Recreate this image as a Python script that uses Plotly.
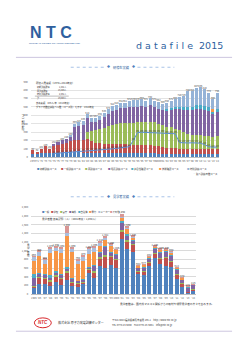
import plotly.graph_objects as go
import numpy as np

W, H = 250, 353
def px(x): return x / W
def py(y): return 1 - y / H

JP = "Noto Sans CJK JP"
BLUE_T = "#2f5f9e"

# ---------------- chart 1 data : 研修生実績 (1970-2014) ----------------
years1 = list(range(1970, 2015))
ticks1 = ["1970" if y == 1970 else "2000" if y == 2000 else "'%02d" % (y % 100) for y in years1]
names1 = ["初期訓練コース", "一般訓練コース", "再訓練コース", "班長訓練コース",
          "適合性確認コース", "技能確認コース", "特別訓練コース"]
colors1 = ["#4F81BD", "#C0504D", "#9BBB59", "#8064A2", "#4BACC6", "#F79646", "#95B3D7"]
c1_blue = [40, 35, 45, 50, 45, 55, 55, 55, 60, 60, 60, 60, 55, 55, 50, 50, 50, 50, 50, 50,
           45, 45, 45, 45, 45, 45, 45, 45, 45, 45, 40, 40, 40, 40, 40, 40, 40, 40, 40, 40,
           40, 40, 40, 40, 40]
c1_red = [42, 27, 57, 79, 57, 80, 90, 100, 110, 130, 150, 150, 150, 160, 140, 120, 120, 110, 110, 110,
          110, 110, 110, 100, 100, 100, 100, 100, 100, 90, 90, 80, 70, 70, 70, 60, 60, 60, 60, 60,
          60, 60, 60, 60, 60]
c1_green = [0, 0, 0, 0, 0, 0, 0, 0, 0, 0, 0, 0, 0, 80, 120, 150, 170, 190, 210, 230,
            240, 250, 250, 260, 260, 270, 270, 280, 270, 290, 270, 270, 250, 250, 230, 220, 200, 180, 170, 170,
            160, 150, 150, 140, 150]
c1_purple = [0, 0, 0, 0, 0, 26, 35, 45, 50, 55, 150, 165, 180, 170, 110, 100, 105, 130, 145, 160,
             165, 180, 180, 195, 200, 190, 200, 170, 205, 170, 180, 170, 200, 210, 230, 250, 260, 280, 290, 300,
             310, 310, 300, 270, 290]
c1_aqua = [0] * 32 + [10, 20, 30, 35, 40, 45, 45, 50, 50, 50, 45, 40, 40]
c1_orange = [0] * 43 + [20, 0]
c1_lblue = [0, 0, 0, 0, 0, 0, 0, 0, 0, 14, 36, 40, 50, 49, 47, 47, 49, 53, 58, 62,
            64, 66, 66, 71, 73, 73, 75, 76, 82, 76, 82, 79, 80, 81, 90, 113, 129, 183, 183, 207,
            215, 200, 175, 120, 188]
series1 = [c1_blue, c1_red, c1_green, c1_purple, c1_aqua, c1_orange, c1_lblue]
line1_name = "延べ訓練日数コース"
line1 = [None] * 5 + [45, 50, 55, 60, 62, 65, 68, 72, 75, 78, 80, 85, 90, 95, 100,
                      105, 110, 115, 125, 200, 295, 298, 296, 294, 294, 292, 290, 288, 285, 280,
                      175, 170, 170, 172, 170, 168, 150, 125, 120, 120]

# ---------------- chart 2 data : 見学者実績 (1985-2014) ----------------
years2 = list(range(1985, 2015))
ticks2 = ["1985" if y == 1985 else "2000" if y == 2000 else "'%02d" % (y % 100) for y in years2]
names2 = ["一般", "学校", "官庁", "海外", "自治体", "電力", "メーカー", "その他"]
colors2 = ["#4F81BD", "#C0504D", "#9BBB59", "#8064A2", "#4BACC6", "#F79646", "#A9BEDD", "#D99694"]
c2_ippan = [150, 230, 240, 180, 280, 200, 330, 190, 160, 220, 480, 370, 650, 600, 680, 600, 1280, 1050, 980, 460,
            440, 650, 840, 700, 650, 620, 350, 170, 20, 80]
c2_gakko = [20, 150, 100, 100, 120, 150, 150, 70, 70, 40, 80, 120, 160, 250, 170, 180, 150, 150, 150, 60,
            80, 60, 90, 100, 190, 120, 100, 60, 20, 20]
c2_kancho = [10, 20, 20, 40, 30, 30, 50, 20, 20, 20, 20, 30, 40, 40, 30, 30, 60, 50, 30, 20,
             20, 20, 20, 20, 20, 20, 20, 20, 10, 10]
c2_kaigai = [200, 60, 80, 60, 60, 60, 50, 60, 40, 40, 30, 130, 90, 200, 70, 100, 150, 100, 60, 50,
             60, 80, 90, 120, 110, 120, 80, 70, 100, 90]
c2_jichi = [80, 30, 30, 50, 40, 30, 40, 30, 20, 20, 20, 30, 20, 20, 20, 20, 40, 30, 20, 20,
            20, 20, 20, 30, 20, 30, 20, 10, 10, 6]
c2_denryoku = [300, 380, 230, 520, 460, 480, 730, 600, 380, 420, 300, 300, 150, 150, 150, 80, 80, 120, 60, 30,
               40, 20, 20, 40, 20, 40, 30, 40, 10, 6]
c2_maker = [90, 90, 80, 100, 80, 90, 60, 70, 80, 100, 100, 90, 80, 30, 10, 0, 20, 30, 20, 10,
            10, 10, 10, 10, 10, 10, 10, 5, 2, 2]
c2_sonota = [16, 25, 20, 24, 28, 24, 153, 29, 20, 19, 23, 25, 28, 31, 20, 15, 80, 30, 16, 4,
             7, 2, 10, 13, 15, 8, 2, 3, 2, 2]
series2 = [c2_ippan, c2_gakko, c2_kancho, c2_kaigai, c2_jichi, c2_denryoku, c2_maker, c2_sonota]

fig = go.Figure()

# chart 1 bars
for nm, col, vals in zip(names1, colors1, series1):
    fig.add_trace(go.Bar(x=years1, y=vals, name=nm, marker_color=col, marker_line_width=0,
                         width=0.72, xaxis="x", yaxis="y", showlegend=False))
tot1 = np.sum(np.array(series1), axis=0)
fig.add_trace(go.Scatter(x=years1, y=tot1, mode="text", text=[str(v) for v in tot1],
                         textposition="top center", textfont=dict(size=2.4, color="#404040", family=JP),
                         xaxis="x", yaxis="y", showlegend=False, cliponaxis=False))
fig.add_trace(go.Scatter(x=years1, y=line1, mode="lines+text", name=line1_name,
                         line=dict(color="#5B8FD6", width=1),
                         text=["" if v is None else str(v) for v in line1], textposition="top center",
                         textfont=dict(size=2.0, color="#404040", family=JP),
                         xaxis="x", yaxis="y", showlegend=False, connectgaps=False))

# chart 2 bars
for nm, col, vals in zip(names2, colors2, series2):
    fig.add_trace(go.Bar(x=years2, y=vals, name=nm, marker_color=col, marker_line_width=0,
                         width=0.72, xaxis="x2", yaxis="y2", showlegend=False))
tot2 = np.sum(np.array(series2), axis=0)
fig.add_trace(go.Scatter(x=years2, y=tot2, mode="text", text=["{:,}".format(int(v)) for v in tot2],
                         textposition="top center", textfont=dict(size=2.6, color="#404040", family=JP),
                         xaxis="x2", yaxis="y2", showlegend=False, cliponaxis=False))

axfont = dict(size=2.5, color="#595959", family=JP)
fig.update_layout(
    width=W, height=H, margin=dict(l=0, r=0, t=0, b=0),
    paper_bgcolor="white", plot_bgcolor="white", barmode="stack",
    font=dict(family=JP),
    xaxis=dict(domain=[29.9 / W, 219.1 / W], anchor="y", range=[1969.5, 2014.5],
               tickvals=years1, ticktext=ticks1, tickangle=0, tickfont=axfont, ticks="",
               showgrid=False, showline=True, linecolor="#bfbfbf", linewidth=0.5, zeroline=False,
               ticklabelstandoff=1),
    yaxis=dict(domain=[py(157), py(80.7)], anchor="x", range=[0, 900], dtick=100,
               tickfont=axfont, showgrid=True, gridcolor="#e3e3e3", gridwidth=0.5, zeroline=False,
               ticks="", ticklabelstandoff=2),
    xaxis2=dict(domain=[30.2 / W, 195.8 / W], anchor="y2", range=[1984.5, 2014.5],
                tickvals=years2, ticktext=ticks2, tickangle=0, tickfont=axfont, ticks="",
                showgrid=False, showline=True, linecolor="#bfbfbf", linewidth=0.5, zeroline=False,
                ticklabelstandoff=1),
    yaxis2=dict(domain=[py(295.3), py(207.8)], anchor="x2", range=[0, 2000], dtick=200,
                tickformat=",d", tickfont=axfont, showgrid=True, gridcolor="#dadada", gridwidth=0.5,
                zeroline=False, ticks="", ticklabelstandoff=2),
)

ann = []
shapes = []
def A(x, y, text, size=3, color="#333333", xanchor="center", family=JP, **kw):
    ann.append(dict(x=px(x), y=py(y), xref="paper", yref="paper", text=text, showarrow=False,
                    xanchor=xanchor, yanchor="middle", font=dict(size=size, color=color, family=family),
                    borderpad=0, **kw))

# header
A(28, 31, "<b>N T C</b>", size=16, color=BLUE_T, xanchor="left", family="Liberation Sans")
A(27, 42, "NUCLEAR POWER TRAINING CENTER LTD.", size=2.5, color=BLUE_T, xanchor="left", family="Liberation Sans")
A(135, 44.5, "d a t a f i l e  2015", size=9.5, color=BLUE_T, xanchor="left", family="DejaVu Sans")
shapes.append(dict(type="line", xref="paper", yref="paper", x0=px(15), x1=px(232), y0=py(56), y1=py(56),
                   line=dict(color="#cdc6df", width=1)))

def section(y, title):
    shapes.append(dict(type="line", xref="paper", yref="paper", x0=px(70), x1=px(104), y0=py(y), y1=py(y),
                       line=dict(color="#6f9bd6", width=0.6, dash="dot")))
    shapes.append(dict(type="line", xref="paper", yref="paper", x0=px(137), x1=px(174), y0=py(y), y1=py(y),
                       line=dict(color="#6f9bd6", width=0.6, dash="dot")))
    A(107.5, y, "◆", size=3, color="#4F81BD")
    A(133.5, y, "◆", size=3, color="#4F81BD")
    A(120.5, y, title, size=3.2, color=BLUE_T)

section(66, "研修生実績")
section(197, "見学者実績")

# chart 1 info box
A(34, 81.8, "研修人員実績（1970～2014年度）", size=2.5, xanchor="left")
rows = [("初期訓練課程", "1,331人", 86.0), ("再訓練課程", "15,346人", 89.6),
        ("特別訓練課程", "2,361人", 93.2), ("計", "19,038人", 97.2)]
for lab, val, yy in rows:
    A(35, yy, lab, size=2.1, xanchor="left")
    A(67, yy, val, size=2.1, xanchor="right")
shapes.append(dict(type="line", xref="paper", yref="paper", x0=px(34), x1=px(68), y0=py(95.2), y1=py(95.2),
                   line=dict(color="#555555", width=0.4)))
A(34, 102, "最高実績　835人/年（2010年度）", size=2.3, xanchor="left")
A(34, 106, "グラフ内数値は延べ人数（コース別）を示す　2014年度", size=2.3, xanchor="left")
A(22, 121, "研修生数（人）", size=2.6, textangle=-90)

# chart 1 legend (annotations)
leg_x = [35, 59, 83, 106, 130, 158, 186]
for xx, nm, col in zip(leg_x, names1, colors1):
    A(xx, 169, '<span style="color:%s">■</span> %s' % (col, nm), size=2.4, xanchor="left")
A(192, 174, '<span style="color:#5B8FD6">―</span> %s' % line1_name, size=2.4, xanchor="left")

# chart 2 legend + note
leg2_x = [40, 49, 58, 67, 76, 87, 96, 108]
for xx, nm, col in zip(leg2_x, names2, colors2):
    A(xx, 212.5, '<span style="color:%s">■</span>%s' % (col, nm), size=2.4, xanchor="left")
A(40, 219.5, "見学者数 最高記録（人）（2001年度：1,860人）", size=2.6, xanchor="left")
A(28, 251, "見<br>学<br>者<br>数", size=2.6)
A(215, 305, "見学者数は、国内外マスコミ関係からの取材や視察見学者の方々を含みます。", size=2.7, xanchor="right")

# footer
shapes.append(dict(type="circle", xref="paper", yref="paper", x0=px(33.5), x1=px(50.5), y0=py(329.5), y1=py(319.5),
                   line=dict(color="#d8262b", width=1), fillcolor="white"))
A(42, 324.5, "<b><i>NTC</i></b>", size=4.5, color="#d8262b", family="Liberation Sans")
A(56, 324.5, "株式会社 原子力発電訓練センター", size=3, xanchor="left")
A(110, 322, "〒914-0843 福井県敦賀市沓見 165-1　http://www.ntc.co.jp", size=2.4, xanchor="left")
A(110, 327, "TEL 0770-23-5000　FAX 0770-23-5001　info@ntc.co.jp", size=2.4, xanchor="left")
shapes.append(dict(type="line", xref="paper", yref="paper", x0=px(15), x1=px(232), y0=py(333), y1=py(333),
                   line=dict(color="#cdc6df", width=1)))

fig.update_layout(annotations=ann, shapes=shapes)
fig.write_html("out.html")
